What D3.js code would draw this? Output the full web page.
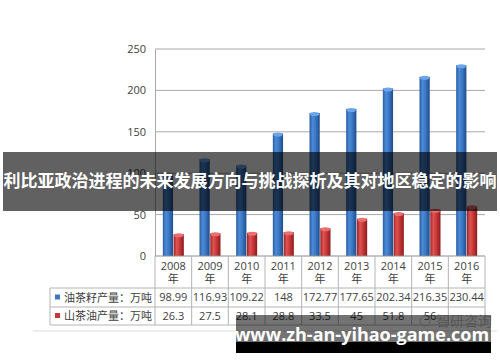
<!DOCTYPE html>
<html>
<head>
<meta charset="utf-8">
<script src="https://cdn.jsdelivr.net/npm/d3@7/dist/d3.min.js"></script>
<style>
  body { margin: 0; background: #fff; }
  svg { display: block; }
</style>
</head>
<body>
<div class="svg_container"></div>
<script>
// Chart data
var years = ["2008", "2009", "2010", "2011", "2012", "2013", "2014", "2015", "2016"];
var seriesNames = ["油茶籽产量：万吨", "山茶油产量：万吨"];
var seedValues = [98.99, 116.93, 109.22, 148, 172.77, 177.65, 202.34, 216.35, 230.44];
var oilValues = [26.3, 27.5, 28.1, 28.8, 33.5, 45, 51.8, 56, 60];
var seedLabels = ["98.99", "116.93", "109.22", "148", "172.77", "177.65", "202.34", "216.35", "230.44"];
var oilLabels = ["26.3", "27.5", "28.1", "28.8", "33.5", "45", "51.8", "56", ""];
var yTicks = [0, 50, 100, 150, 200, 250];
var title = "利比亚政治进程的未来发展方向与挑战探析及其对地区稳定的影响";
var siteText = "www.zh-an-yihao-game.com";

var W = 500, H = 362;
var CJK = "'Noto Sans CJK SC', 'Noto Sans', sans-serif";
var NUM = "'Open Sans', 'Liberation Sans', sans-serif";

var svg = d3.select("div.svg_container")
    .append("svg")
        .attr("width", W)
        .attr("height", H);

// Gradients for the cylinder look
var defs = svg.append("defs");
function addGrad(id, stops) {
    var g = defs.append("linearGradient").attr("id", id)
        .attr("x1", "0%").attr("x2", "100%").attr("y1", "0%").attr("y2", "0%");
    stops.forEach(function(s) {
        g.append("stop").attr("offset", s[0]).attr("stop-color", s[1]);
    });
}
addGrad("gBlue", [["0%", "#2a5c9c"], ["30%", "#4b8bd9"], ["60%", "#3b77c4"], ["100%", "#1f4c88"]]);
addGrad("gRed", [["0%", "#9a2323"], ["30%", "#e05454"], ["60%", "#c93838"], ["100%", "#8a1c1c"]]);

// Scales
var x = d3.scaleBand().domain(years).range([155, 485]);
var y = d3.scaleLinear().domain([0, 250]).range([256, 49]);
var bw = x.bandwidth();
var xs = d3.scaleBand().domain(seriesNames)
    .range([bw / 2 - 10.5, bw / 2 + 10.5]).paddingInner(0.05);

// Gridlines
svg.append("g")
    .selectAll("line")
    .data(yTicks.filter(function(d) { return d > 0; }))
    .enter()
    .append("line")
        .attr("x1", 155).attr("x2", 485)
        .attr("y1", function(d) { return y(d); })
        .attr("y2", function(d) { return y(d); })
        .style("stroke", "#a8a8a8")
        .attr("stroke-width", 1);

// Y axis
var yAxis = svg.append("g")
    .attr("transform", "translate(155,0)")
    .call(d3.axisLeft(y).tickValues(yTicks).tickSize(0).tickPadding(9));
yAxis.select(".domain").attr("stroke", "#a8a8a8");
yAxis.selectAll("text")
    .style("font-family", NUM)
    .style("font-size", "11px")
    .attr("fill", "#404040");

// Bars
var data = years.map(function(yr, i) {
    return [
        { year: yr, s: seriesNames[0], v: seedValues[i], grad: "url(#gBlue)", cap: "#6aa6ec" },
        { year: yr, s: seriesNames[1], v: oilValues[i], grad: "url(#gRed)", cap: "#ec6f6f" }
    ];
}).flat();

var bars = svg.append("g").selectAll("g.bar")
    .data(data)
    .enter()
    .append("g")
    .attr("class", "bar")
    .attr("transform", function(d) { return "translate(" + (x(d.year) + xs(d.s)) + ",0)"; });

bars.append("rect")
    .attr("x", 0)
    .attr("y", function(d) { return y(d.v); })
    .attr("width", xs.bandwidth())
    .attr("height", function(d) { return y(0) - y(d.v); })
    .style("fill", function(d) { return d.grad; });

bars.append("ellipse")
    .attr("cx", xs.bandwidth() / 2)
    .attr("cy", function(d) { return y(d.v) + 1; })
    .attr("rx", xs.bandwidth() / 2 - 0.5)
    .attr("ry", 2)
    .style("fill", function(d) { return d.cap; });

// Data table
var table = svg.append("g").attr("class", "table");
var rowY = [256, 288, 307, 325];
var lineColor = "#b4b4b4";

// horizontal lines
table.append("line").attr("x1", 155).attr("x2", 485).attr("y1", 256).attr("y2", 256)
    .style("stroke", "#8c8c8c");
[288, 307, 325].forEach(function(yy) {
    table.append("line").attr("x1", 50).attr("x2", 485).attr("y1", yy).attr("y2", yy)
        .style("stroke", lineColor);
});
// vertical lines
var xEdges = years.map(function(d) { return x(d); }).concat([485]);
table.selectAll("line.v")
    .data(xEdges)
    .enter()
    .append("line")
        .attr("class", "v")
        .attr("x1", function(d) { return d; }).attr("x2", function(d) { return d; })
        .attr("y1", 256).attr("y2", 325)
        .style("stroke", lineColor);
table.append("line").attr("x1", 50).attr("x2", 50).attr("y1", 288).attr("y2", 325)
    .style("stroke", lineColor);

// header years
var hdr = table.selectAll("g.hdr")
    .data(years)
    .enter()
    .append("g")
    .attr("class", "hdr")
    .attr("transform", function(d) { return "translate(" + (x(d) + bw / 2) + ",0)"; });
hdr.append("text")
    .attr("y", 270)
    .attr("text-anchor", "middle")
    .style("font-family", NUM).style("font-size", "11px").attr("fill", "#404040")
    .text(function(d) { return d; });
hdr.append("text")
    .attr("y", 283)
    .attr("text-anchor", "middle")
    .style("font-family", CJK).style("font-size", "11px").attr("fill", "#404040")
    .text("年");

// value rows
function addRow(labels, yy) {
    table.append("g").selectAll("text")
        .data(labels)
        .enter()
        .append("text")
            .attr("x", function(d, i) { return x(years[i]) + bw / 2; })
            .attr("y", yy)
            .attr("text-anchor", "middle")
            .style("font-family", NUM).style("font-size", "11px").attr("fill", "#404040")
            .text(function(d) { return d; });
}
addRow(seedLabels, 301);
addRow(oilLabels, 320);

// row labels with legend keys
var keyColors = ["#3b77c4", "#c93838"];
seriesNames.forEach(function(name, i) {
    var cy = i == 0 ? 297.5 : 316;
    table.append("rect")
        .attr("x", 55).attr("y", cy - 3).attr("width", 5).attr("height", 5)
        .style("fill", keyColors[i]);
    table.append("text")
        .attr("x", 64).attr("y", cy + 4)
        .style("font-family", CJK).style("font-size", "11px").attr("fill", "#404040")
        .attr("textLength", 88)
        .text(name);
});

// outer chart border line
svg.append("line").attr("x1", 33).attr("x2", 497).attr("y1", 331).attr("y2", 331)
    .style("stroke", "#dcdcdc");

// faint source watermark
svg.append("circle").attr("cx", 425).attr("cy", 321).attr("r", 5)
    .style("fill", "none").style("stroke", "#c8c8c8");
svg.append("text")
    .attr("x", 436).attr("y", 326)
    .style("font-family", CJK).style("font-size", "14px").attr("fill", "#c0c0c0")
    .text("智研咨询");

// Title banner overlay
svg.append("rect")
    .attr("x", 3).attr("y", 152).attr("width", 494).attr("height", 59)
    .style("fill", "#000").style("fill-opacity", 0.62);
svg.append("text")
    .attr("x", 250).attr("y", 187)
    .attr("text-anchor", "middle")
    .style("font-family", CJK).style("font-size", "17px").style("font-weight", "bold")
    .attr("fill", "#fff")
    .text(title);

// Site banner at the bottom
svg.append("rect")
    .attr("x", 236).attr("y", 315).attr("width", 255).attr("height", 27)
    .style("fill", "#000").style("fill-opacity", 0.55);
svg.append("rect")
    .attr("x", 236).attr("y", 342).attr("width", 255).attr("height", 11)
    .style("fill", "#000");
svg.append("text")
    .attr("x", 362).attr("y", 341)
    .attr("text-anchor", "middle")
    .style("font-family", "'Open Sans', 'DejaVu Sans', sans-serif")
    .style("font-size", "18px").style("font-weight", "bold")
    .attr("fill", "#fff")
    .text(siteText);
</script>
</body>
</html>
